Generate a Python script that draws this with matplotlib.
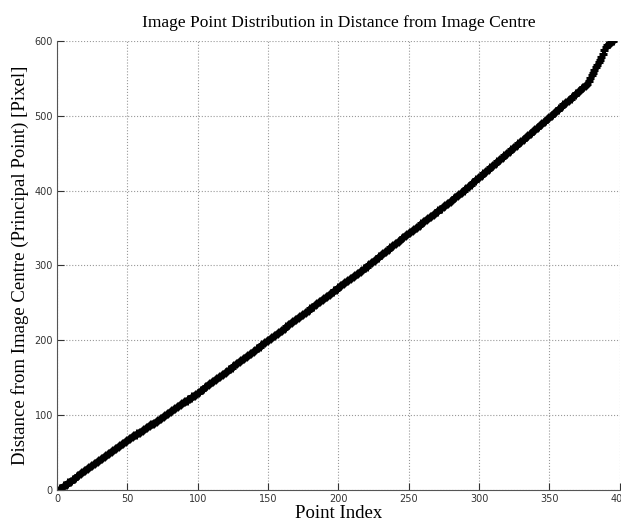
import numpy as np
import matplotlib
matplotlib.use('Agg')
import matplotlib.pyplot as plt

# distance of each image point from the principal point [pixel], sorted
dist = [
    0.5, 2, 3, 4.5, 6, 7, 8.5, 10, 11, 12.5,
    14, 15, 16.5, 18, 19.5, 21, 22, 23.5, 25, 26,
    27.5, 29, 30, 31.5, 33, 34, 35.5, 37, 38.5, 40,
    41, 42.5, 44, 45, 46.5, 48, 49, 50.5, 52, 53.5,
    55, 56, 57.5, 59, 60, 61.5, 63, 64, 65.5, 67,
    68, 69.5, 70.5, 72, 73, 74, 75.5, 76.5, 78, 79,
    80, 81.5, 82.5, 84, 85, 86.5, 87.5, 88.5, 90, 91,
    92.5, 93.5, 95, 96, 97.5, 98.5, 100, 101.5, 102.5, 104,
    105, 106.5, 108, 109, 110.5, 111.5, 113, 114.5, 115.5, 117,
    118.5, 119.5, 121, 122, 123.5, 125, 126, 127.5, 128.5, 130,
    131.5, 133, 134, 135.5, 137, 138.5, 140, 141, 142.5, 144,
    145.5, 147, 148, 149.5, 151, 152.5, 154, 155, 156.5, 158,
    159.5, 161, 162, 163.5, 165, 166.5, 168, 169, 170.5, 172,
    173.5, 175, 176, 177.5, 179, 180.5, 182, 183, 184.5, 186,
    187.5, 189, 190, 191.5, 193, 194.5, 196, 197, 198.5, 200,
    201.5, 203, 204.5, 206, 207, 208.5, 210, 211.5, 213, 214,
    215.5, 217, 218.5, 220, 221.5, 222.5, 224, 225.5, 227, 228.5,
    229.5, 231, 232.5, 234, 235.5, 237, 238, 239.5, 241, 242.5,
    244, 245, 246.5, 248, 249.5, 251, 252, 253.5, 255, 256.5,
    258, 259.5, 260.5, 262, 263.5, 265, 266.5, 267.5, 269, 271,
    272, 273.5, 275, 276.5, 278, 279, 280.5, 282, 283, 284.5,
    286, 287.5, 289, 290, 291.5, 293, 294.5, 296, 297, 298.5,
    300, 301.5, 303, 304.5, 306, 307.5, 309, 310.5, 312, 313.5,
    315, 316.5, 318, 319.5, 321, 322.5, 324, 325.5, 327, 328.5,
    330, 331.5, 333, 334.5, 336, 337.5, 339, 340, 341.5, 343,
    344.5, 346, 347.5, 349, 350, 351.5, 353, 354.5, 356, 357.5,
    359, 360.5, 362, 363, 364.5, 366, 367.5, 369, 370.5, 372,
    373.5, 375, 376, 377.5, 379, 380.5, 382, 383.5, 385, 386.5,
    388, 389.5, 391, 392.5, 394, 395.5, 397, 398.5, 400, 401.5,
    403, 405, 406.5, 408, 410, 411.5, 413, 415, 416.5, 418,
    419.5, 421, 423, 424.5, 426, 427.5, 429, 431, 432.5, 434,
    435.5, 437, 439, 440.5, 442, 443.5, 445, 447, 448.5, 450,
    451.5, 453, 455, 456.5, 458, 459.5, 461, 463, 464.5, 466,
    467.5, 469, 471, 472.5, 474, 475.5, 477, 479, 480.5, 482,
    483.5, 485, 487, 488.5, 490, 491.5, 493, 495, 496.5, 498,
    500, 501.5, 503, 505, 506.5, 508, 510, 511.5, 513, 515,
    516.5, 518, 520, 521.5, 523, 525, 526.5, 528, 530, 531.5,
    533, 535, 536.5, 538, 540, 541.5, 543, 547, 550, 554,
    557, 561, 564.5, 568, 572, 575, 579, 583, 588, 592,
    594, 595.5, 597, 599, 600,
]
point_index = np.arange(1, len(dist) + 1)

xticks = [0, 50, 100, 150, 200, 250, 300, 350, 400]
yticks = [0, 100, 200, 300, 400, 500, 600]

fig = plt.figure(figsize=(6.21, 5.24), dpi=100)
ax = fig.add_axes([0.092, 0.065, 0.906, 0.857])

ax.plot(point_index, dist, '+', color='black', markersize=6, markeredgewidth=2.2)

ax.set_xlim(0, 400)
ax.set_ylim(0, 600)
ax.set_xticks(xticks)
ax.set_yticks(yticks)

ax.grid(True, linestyle=':', color='#999999', linewidth=0.8)
ax.set_axisbelow(True)
ax.spines['top'].set_visible(False)
ax.spines['right'].set_visible(False)
ax.spines['left'].set_color('#555555')
ax.spines['bottom'].set_color('#555555')
ax.tick_params(direction='in', length=5, labelsize=7, colors='#333333',
               pad=3)
for lbl in ax.get_xticklabels() + ax.get_yticklabels():
    lbl.set_family('Liberation Sans Narrow')

serif = ['Liberation Serif', 'DejaVu Serif']
ax.set_title('Image Point Distribution in Distance from Image Centre',
             fontsize=12.5, family=serif, pad=10)
ax.set_xlabel('Point Index', fontsize=13.5, family=serif, labelpad=1)
ax.set_ylabel('Distance from Image Centre (Principal Point) [Pixel]',
              fontsize=13.5, family=serif, labelpad=4)

fig.savefig('out.png', dpi=100)
